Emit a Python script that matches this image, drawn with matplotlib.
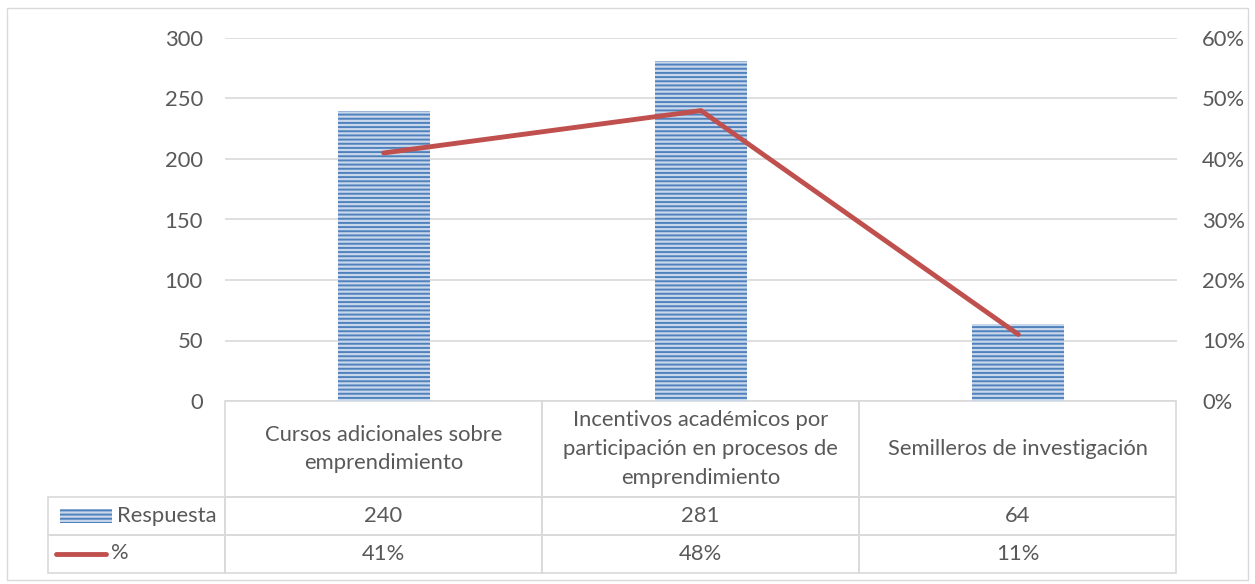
import matplotlib
matplotlib.use('Agg')
import matplotlib.pyplot as plt
from matplotlib.table import Table
from matplotlib.patches import Rectangle
from matplotlib.lines import Line2D
from matplotlib.ticker import PercentFormatter

# datos
categorias = ['Cursos adicionales sobre\nemprendimiento',
              'Incentivos académicos por\nparticipación en procesos de\nemprendimiento',
              'Semilleros de investigación']
respuesta = [240, 281, 64]
porcentaje = [0.41, 0.48, 0.11]
etiquetas_pct = ['41%', '48%', '11%']

gris = '#595959'
grid = '#D9D9D9'
azul = '#4F81BD'
rojo = '#C0504D'
fs = 15.8

plt.rcParams['font.family'] = ['Lato', 'DejaVu Sans']
plt.rcParams['hatch.linewidth'] = 1.4
plt.rcParams['hatch.color'] = azul

fig = plt.figure(figsize=(12.55, 5.84), dpi=100)
ax = fig.add_axes([225 / 1255, 1 - 401 / 584, 952 / 1255, 363 / 584])
ax2 = ax.twinx()

x = list(range(len(categorias)))
ax.bar(x, respuesta, width=0.29, color='#C9D7EB', edgecolor=azul,
       linewidth=0, hatch='----', zorder=2)
ax.set_xlim(-0.5, 2.5)
ax.set_ylim(0, 300)
ax.set_yticks(range(0, 301, 50))
ax.grid(axis='y', color=grid, linewidth=1.2, zorder=0)
ax.set_axisbelow(True)
ax.set_xticks([])

ax2.plot(x, porcentaje, color=rojo, linewidth=3.5, solid_capstyle='round', zorder=3)
ax2.set_ylim(0, 0.6)
ax2.set_yticks([i / 10 for i in range(7)])
ax2.yaxis.set_major_formatter(PercentFormatter(1.0, decimals=0))

for a in (ax, ax2):
    for s in a.spines.values():
        s.set_visible(False)
    a.tick_params(length=0, labelsize=fs, labelcolor=gris)
ax.tick_params(axis='y', pad=16)
ax2.tick_params(axis='y', pad=18)

# tabla de datos (anchos en fraccion de ejes)
W = 952
H = 363
tbl = Table(ax, bbox=[0, -172 / H, 951 / W, 172 / H])
for j, c in enumerate(categorias):
    tbl.add_cell(0, j, width=317 / W, height=96 / H, text=c, loc='center',
                 edgecolor=grid, facecolor='none')
for j, v in enumerate(respuesta):
    tbl.add_cell(1, j, width=317 / W, height=38 / H, text=str(v), loc='center',
                 edgecolor=grid, facecolor='none')
for j, v in enumerate(etiquetas_pct):
    tbl.add_cell(2, j, width=317 / W, height=38 / H, text=v, loc='center',
                 edgecolor=grid, facecolor='none')
tbl.add_cell(1, -1, width=177 / W, height=38 / H, text='', edgecolor=grid, facecolor='none')
tbl.add_cell(2, -1, width=177 / W, height=38 / H, text='', edgecolor=grid, facecolor='none')
tbl.auto_set_font_size(False)
tbl.set_fontsize(fs)
for (r, c), cell in tbl.get_celld().items():
    cell.get_text().set_color(gris)
    cell.set_linewidth(1.2)
    if r == 0:
        cell.get_text().set_linespacing(1.55)
ax.add_table(tbl)

# leyenda dentro de la tabla
px = lambda v: (v - 225) / W
py = lambda v: (401 - v) / H
ax.add_patch(Rectangle((px(60), py(523)), 52 / W, 14 / H, transform=ax.transAxes,
                       facecolor='#C9D7EB', edgecolor=azul, linewidth=0,
                       hatch='----', clip_on=False))
ax.text(px(117), py(516), 'Respuesta', transform=ax.transAxes, va='center',
        ha='left', fontsize=fs, color=gris)
ax.add_line(Line2D([px(56), px(106)], [py(554), py(554)], transform=ax.transAxes,
                   color=rojo, linewidth=3.5, solid_capstyle='round', clip_on=False))
ax.text(px(111), py(553), '%', transform=ax.transAxes, va='center',
        ha='left', fontsize=fs, color=gris)

fig.patches.append(Rectangle((7 / 1255, 4 / 584), 1241 / 1255, 572 / 584,
                             transform=fig.transFigure, fill=False,
                             edgecolor=grid, linewidth=1))

plt.savefig('out.png', dpi=100)
